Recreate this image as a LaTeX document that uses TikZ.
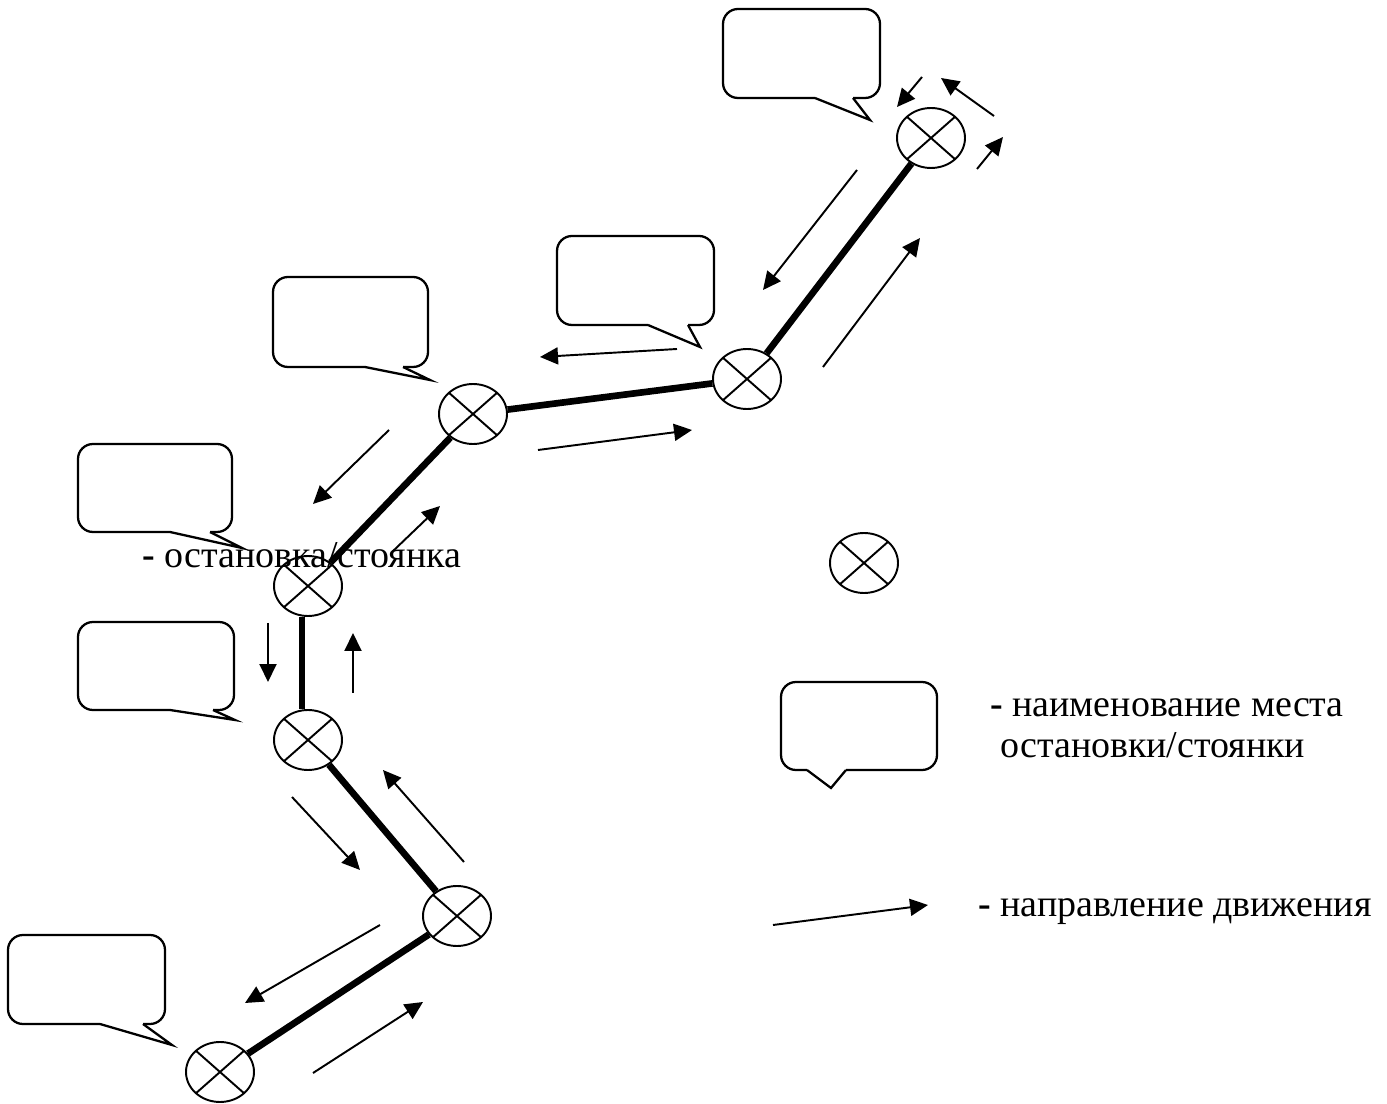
\documentclass[tikz,border=0pt]{standalone}
\usepackage{fontspec}
\setmainfont{Liberation Serif}
\usetikzlibrary{arrows.meta,shapes.geometric}
\newcommand\speechbubble[8]{%
  \draw[bubbleline, rounded corners=0.3cm] (#1,#2) rectangle (#3,#4);
  \fill[white] (#5,#4-3) rectangle (#6,#4+3);
  \draw[bubbleline, line join=miter] (#5,#4) -- (#7,#8) -- (#6,#4);
}
\begin{document}
\begin{tikzpicture}[x=0.02cm,y=-0.02cm,
  stop/.style={draw, ellipse, line width=1.1pt, minimum width=1.36cm, minimum height=1.2cm, inner sep=0pt,
    path picture={\draw[line width=1.1pt] (path picture bounding box.north west) -- (path picture bounding box.south east)
      (path picture bounding box.north east) -- (path picture bounding box.south west);}},
  route/.style={line width=3.8pt},
  mv/.style={line width=1.1pt, -{Triangle[length=0.36cm,width=0.34cm]}},
  bubbleline/.style={line width=1.3pt},
  lbl/.style={font=\fontsize{21.6}{26}\selectfont, inner sep=0pt, anchor=base west}]
\useasboundingbox (0,0) rectangle (1387,1104);

% labels
\node[lbl] (t1) at (142,568) {\textbf{-} остановка/стоянка};
\node[lbl] (t2) at (990,717) {\textbf{-} наименование места};
\node[lbl] (t3) at (1000,758) {остановки/стоянки};
\node[lbl] (t4) at (978,916) {\textbf{-} направление движения};

% stops
\node[stop] (c1) at (931,138) {};
\node[stop] (c2) at (747,379) {};
\node[stop] (c3) at (473,414) {};
\node[stop] (c4) at (308,586) {};
\node[stop] (c5) at (308,740) {};
\node[stop] (c6) at (457,916) {};
\node[stop] (c7) at (220,1072) {};
\node[stop] (cl) at (864,563) {};

% route
\draw[route] (c7) -- (c6);
\draw[route] (c6) -- (c5);
\draw[route] ([xshift=-0.12cm]c5.north) -- ([xshift=-0.12cm]c4.south);
\draw[route] (c4) -- (c3);
\draw[route] (c3) -- (c2);
\draw[route] (c2) -- (c1);

% callouts
\speechbubble{723}{9}{880}{98}{815}{853}{870}{120}
\speechbubble{557}{236}{714}{325}{648}{688}{700}{347}
\speechbubble{273}{277}{428}{367}{365}{403}{430}{380}
\speechbubble{78}{444}{232}{532}{170}{210}{242}{548}
\speechbubble{78}{622}{234}{710}{170}{213}{235}{720}
\speechbubble{8}{935}{165}{1024}{100}{143}{172}{1045}
\speechbubble{781}{682}{937}{770}{807}{846}{831}{788}

% direction arrows
\draw[mv] (922,77) -- (897,107);
\draw[mv] (994,116) -- (941,78);
\draw[mv] (977,169) -- (1003,137);
\draw[mv] (857,170) -- (763,290);
\draw[mv] (823,367) -- (920,238);
\draw[mv] (677,349) -- (540,357);
\draw[mv] (538,450) -- (692,430);
\draw[mv] (389,430) -- (313,504);
\draw[mv] (392,552) -- (440,506);
\draw[mv] (268,623) -- (268,682);
\draw[mv] (353,693) -- (353,633);
\draw[mv] (292,797) -- (360,870);
\draw[mv] (464,862) -- (383,770);
\draw[mv] (380,925) -- (245,1003);
\draw[mv] (313,1073) -- (423,1002);
\draw[mv] (773,925) -- (928,905);
\end{tikzpicture}
\end{document}
